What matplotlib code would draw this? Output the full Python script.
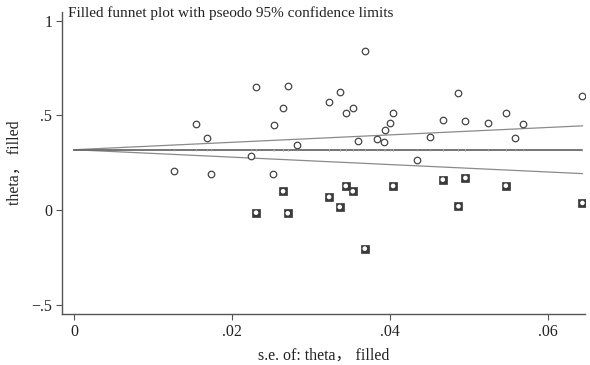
import numpy as np
import matplotlib
matplotlib.use('Agg')
import matplotlib.pyplot as plt
from matplotlib.ticker import FuncFormatter

plt.rcParams['font.family'] = ['Liberation Serif', 'Noto Sans CJK SC']

# observed studies (se, theta)
se_obs = [0.01266, 0.01544, 0.01680, 0.01734, 0.02241, 0.02304, 0.02519, 0.02532,
          0.02646, 0.02705, 0.02819, 0.03228, 0.03363, 0.03439, 0.03528, 0.03599,
          0.03680, 0.03835, 0.03928, 0.03941, 0.04000, 0.04038, 0.04338, 0.04506,
          0.04667, 0.04865, 0.04949, 0.05237, 0.05465, 0.05582, 0.05684, 0.06430]
theta_obs = [0.2075, 0.4525, 0.380, 0.1885, 0.2867, 0.651, 0.1885, 0.447,
             0.537, 0.656, 0.345, 0.570, 0.625, 0.512, 0.5385, 0.366,
             0.841, 0.375, 0.359, 0.424, 0.459, 0.512, 0.262, 0.384,
             0.477, 0.618, 0.468, 0.459, 0.5106, 0.3817, 0.454, 0.602]

# filled (imputed) studies
se_fill = [0.02304, 0.02646, 0.02705, 0.03228, 0.03363, 0.03439, 0.03528,
           0.03680, 0.04038, 0.04667, 0.04865, 0.04953, 0.05465, 0.06434]
theta_fill = [-0.0143, 0.0987, -0.0174, 0.0686, 0.0158, 0.1267, 0.0987,
              -0.2043, 0.1267, 0.160, 0.0195, 0.169, 0.128, 0.037]

theta_pooled = 0.318

fig = plt.figure(figsize=(5.9, 3.65), dpi=100)
ax = fig.add_axes([0.105, 0.14, 0.887, 0.828])

se_max = max(se_obs + se_fill)
s = np.array([0, se_max])
ax.plot(s, theta_pooled + 1.96 * s, color='#8a8a8a', lw=0.9)
ax.plot(s, theta_pooled - 1.96 * s, color='#8a8a8a', lw=0.9)
ax.plot(s, [theta_pooled, theta_pooled], color='#6a6a6a', lw=1.3)
# little ticks on the pooled line at each study's se
all_se = se_obs + se_fill
ax.plot(all_se, [theta_pooled] * len(all_se), ls='none', marker='|',
        ms=2, mew=0.5, color='#b0b0b0')

ax.scatter(se_obs, theta_obs, s=22, facecolors='white', edgecolors='#444444',
           linewidths=0.9, zorder=3)
ax.scatter(se_fill, theta_fill, s=30, marker='s', facecolors='#3a3a3a',
           edgecolors='#3a3a3a', linewidths=0.5, zorder=3)
ax.scatter(se_fill, theta_fill, s=11, facecolors='white', edgecolors='none',
           zorder=4)

ax.set_xlim(-0.00152, 0.0647)
ax.set_ylim(-0.549, 1.047)
ax.set_xticks([0, 0.02, 0.04, 0.06])
ax.set_yticks([-0.5, 0, 0.5, 1])


def fmt(v, pos):
    if abs(v) < 1e-12:
        return '0'
    t = ('%g' % v)
    t = t.replace('0.', '.')
    return t.replace('-', '\u2212')


ax.xaxis.set_major_formatter(FuncFormatter(fmt))
ax.yaxis.set_major_formatter(FuncFormatter(fmt))

for side in ['top', 'right']:
    ax.spines[side].set_visible(False)
for side in ['left', 'bottom']:
    ax.spines[side].set_color('#555555')
    ax.spines[side].set_linewidth(1.0)
ax.tick_params(direction='out', length=4, width=0.8, color='#555555',
               labelsize=11.5, labelcolor='#222222', pad=3)

ax.set_ylabel('theta\uff0c filled', fontsize=11.5, color='#222222', labelpad=6)
ax.set_xlabel('s.e. of: theta\uff0c filled', fontsize=11.5, color='#222222',
              labelpad=6)
ax.text(0.012, 0.995, 'Filled funnet plot with pseodo 95% confidence limits',
        transform=ax.transAxes, ha='left', va='center', fontsize=11,
        color='#222222')

fig.savefig('out.png', dpi=100)
